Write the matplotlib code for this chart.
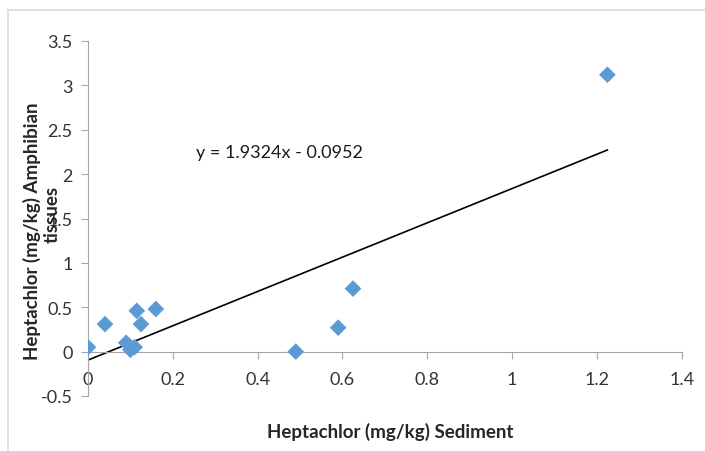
import matplotlib.pyplot as plt
from matplotlib.lines import Line2D

# Heptachlor concentrations
sediment = [0.0, 0.04, 0.09, 0.10, 0.11, 0.115, 0.125, 0.16, 0.49, 0.59, 0.625, 1.225]
tissue = [0.05, 0.31, 0.10, 0.02, 0.05, 0.46, 0.31, 0.48, 0.0, 0.27, 0.71, 3.12]

# linear trendline as reported on the chart
slope = 1.9324
intercept = -0.0952

xticks = [0, 0.2, 0.4, 0.6, 0.8, 1, 1.2, 1.4]
yticks = [-0.5, 0, 0.5, 1, 1.5, 2, 2.5, 3, 3.5]

plt.rcParams['font.family'] = ['Lato', 'DejaVu Sans']

W, H = 705, 452
fig = plt.figure(figsize=(W / 100, H / 100), dpi=100)
ax = fig.add_axes([88 / W, 1 - 397 / H, (681.6 - 88) / W, (397 - 42) / H])

ax.scatter(sediment, tissue, marker='D', s=8.5 ** 2, color='#5B9BD5',
           edgecolors='none', zorder=3)

x_fit = [min(sediment), max(sediment)]
ax.plot(x_fit, [slope * x + intercept for x in x_fit], color='black', lw=1.2, zorder=2)

ax.text(0.255, 2.19, f"y = {slope}x - {abs(intercept)}", fontsize=13, color='#1a1a1a')

ax.set_xlim(0, 1.4)
ax.set_ylim(-0.5, 3.5)
ax.set_xticks(xticks)
ax.set_xticklabels([f"{t:g}" for t in xticks])
ax.set_yticks(yticks)
ax.set_yticklabels([f"{t:g}" for t in yticks])

# Excel-like axes crossing at zero
ax.spines['bottom'].set_position(('data', 0))
ax.spines['left'].set_position(('data', 0))
for s in ['top', 'right']:
    ax.spines[s].set_visible(False)
for s in ['bottom', 'left']:
    ax.spines[s].set_color('#A6A6A6')
ax.tick_params(axis='both', color='#A6A6A6', length=5, labelsize=13, labelcolor='#333333')
ax.tick_params(axis='x', pad=9)
ax.tick_params(axis='y', pad=6)

# axis titles (the y title overlaps the tick labels as in the original)
fig.text(390 / W, 1 - 432 / H, "Heptachlor (mg/kg) Sediment", ha='center', va='center',
         fontsize=13.5, fontweight='bold', color='#262626')
fig.text(32 / W, 1 - 231 / H, "Heptachlor (mg/kg) Amphibian", ha='center', va='center',
         rotation=90, fontsize=13.5, fontweight='bold', color='#262626')
fig.text(52 / W, 1 - 214 / H, "tissues", ha='center', va='center',
         rotation=90, fontsize=13.5, fontweight='bold', color='#262626')

# chart border fragments
fig.add_artist(Line2D([8 / W, 1], [1 - 10.5 / H] * 2, color='#D9D9D9', lw=1.2))
fig.add_artist(Line2D([8 / W] * 2, [0, 1 - 10.5 / H], color='#D9D9D9', lw=1.2))

fig.savefig('out.png', dpi=100)
